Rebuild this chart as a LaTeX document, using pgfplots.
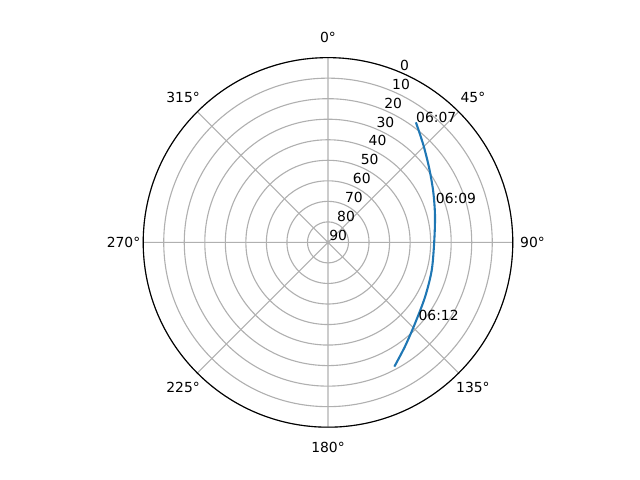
\documentclass[border=0pt]{standalone}
\usepackage{pgfplots}
\pgfplotsset{compat=1.18}
\usepgfplotslibrary{polar}
\usepackage{fontspec}
\setmainfont{DejaVu Sans}
\definecolor{gridgray}{HTML}{B0B0B0}
\definecolor{mplblue}{HTML}{1F77B4}
\begin{document}
\begin{tikzpicture}[lbl/.style={anchor=south west, inner sep=0.8pt, font=\fontsize{10}{12}\selectfont}, ann/.style={anchor=base west, inner sep=0pt, font=\fontsize{10}{12}\selectfont}, alb/.style={anchor=center, inner sep=0pt, font=\fontsize{10}{12}\selectfont}]
\path[use as bounding box] (-236.16pt,-171.07pt) rectangle (224.64pt,174.53pt);
\begin{polaraxis}[
  at={(0,0)}, anchor=center,
  width=266.1pt, height=266.1pt, scale only axis,
  xmin=0, xmax=360, ymin=0, ymax=90,
  xtick={0,45,...,315},
  xticklabels={}, yticklabels={},
  ytick={0,10,...,90},
  grid=major,
  major grid style={gridgray, line width=0.8pt},
  x axis line style={black, line width=0.8pt},
  y axis line style={draw=none},
  major tick length=0pt,
  clip=false,
]
\addplot[mplblue, line width=1.5pt, no marks, smooth] coordinates {
(53.8,72.5) (45.6,66.4) (36.2,61.1) (25.7,56.9) (14.4,53.8) (1.3,51.8)
(-14.9,52.3) (-29.2,54.2) (-42.9,57.9) (-53.6,63.1) (-61.9,68.6)
};
\node[lbl] at (axis cs:67.5,0) {90};
\node[lbl] at (axis cs:67.5,10) {80};
\node[lbl] at (axis cs:67.5,20) {70};
\node[lbl] at (axis cs:67.5,30) {60};
\node[lbl] at (axis cs:67.5,40) {50};
\node[lbl] at (axis cs:67.5,50) {40};
\node[lbl] at (axis cs:67.5,60) {30};
\node[lbl] at (axis cs:67.5,70) {20};
\node[lbl] at (axis cs:67.5,80) {10};
\node[lbl] at (axis cs:67.5,90) {0};
\node[alb, shift={(90:14.6pt)}] at (axis cs:90,90) {0°};
\node[alb, shift={(45:14.5pt)}] at (axis cs:45,90) {45°};
\node[alb, shift={(0:14.2pt)}] at (axis cs:0,90) {90°};
\node[alb, shift={(-45:14.5pt)}] at (axis cs:315,90) {135°};
\node[alb, shift={(-90:14.6pt)}] at (axis cs:270,90) {180°};
\node[alb, shift={(-135:14.5pt)}] at (axis cs:225,90) {225°};
\node[alb, shift={(180:14.2pt)}] at (axis cs:180,90) {270°};
\node[alb, shift={(135:14.5pt)}] at (axis cs:135,90) {315°};
\node[ann] at (axis cs:53.8,72.5) {06:07};
\node[ann] at (axis cs:20.0,55.8) {06:09};
\node[ann] at (axis cs:319.1,58.2) {06:12};
\end{polaraxis}
\end{tikzpicture}
\end{document}
